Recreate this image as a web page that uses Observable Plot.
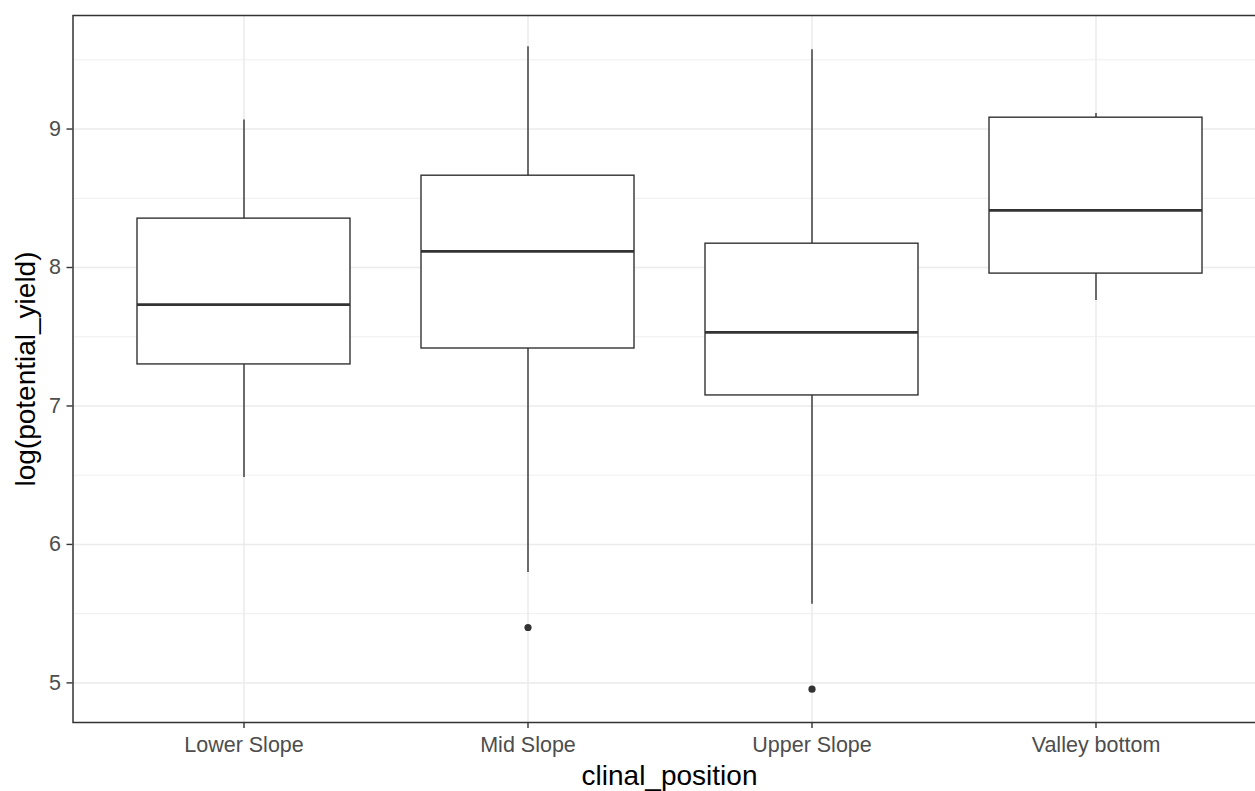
<!DOCTYPE html>
<html>
<head>
<meta charset="utf-8">
<script src="https://cdn.jsdelivr.net/npm/d3@7"></script>
<script src="https://cdn.jsdelivr.net/npm/@observablehq/plot@0.6"></script>
<style>
  html, body { margin: 0; padding: 0; background: #fff; overflow: hidden; }
  #chart { width: 1255px; height: 791px; overflow: hidden; }
  #chart svg { max-width: none !important; }
</style>
</head>
<body>
<div id="chart"></div>
<script>
const categories = ["Lower Slope", "Mid Slope", "Upper Slope", "Valley bottom"];
const whiskerLow  = [6.484, 5.797, 5.568, 7.761];
const q1          = [7.300, 7.415, 7.076, 7.956];
const median      = [7.732, 8.117, 7.531, 8.413];
const q3          = [8.353, 8.663, 8.172, 9.082];
const whiskerHigh = [9.065, 9.594, 9.572, 9.113];
const outlierCats = ["Mid Slope", "Upper Slope"];
const outlierVals = [5.40, 4.955];
const yTicks = [5, 6, 7, 8, 9];
const yMinor = [5.5, 6.5, 7.5, 8.5, 9.5];

const boxes = categories.map((c, i) => ({
  cat: c, lo: whiskerLow[i], q1: q1[i], med: median[i], q3: q3[i], hi: whiskerHigh[i]
}));
const outliers = outlierCats.map((c, i) => ({cat: c, v: outlierVals[i]}));

const font = "'Liberation Sans', Arial, Helvetica, sans-serif";
const dark = "#333333";
const grid = "#EBEBEB";

const chart = Plot.plot({
  width: 1272,
  height: 791,
  marginLeft: 72.5,
  marginRight: 6.5,
  marginTop: 15,
  marginBottom: 69,
  style: {fontFamily: font, background: "#fff", overflow: "visible", maxWidth: "none"},
  x: {domain: categories, paddingInner: 0.25, paddingOuter: 0.225, align: 0.5, label: null},
  y: {domain: [4.714, 9.82], label: null},
  marks: [
    Plot.ruleY(yMinor, {stroke: grid, strokeWidth: 0.8}),
    Plot.ruleY(yTicks, {stroke: grid, strokeWidth: 1.5}),
    Plot.ruleX(categories, {x: d => d, stroke: grid, strokeWidth: 1.5}),
    Plot.ruleX(boxes, {x: "cat", y1: "q3", y2: "hi", stroke: dark, strokeWidth: 1.4}),
    Plot.ruleX(boxes, {x: "cat", y1: "lo", y2: "q1", stroke: dark, strokeWidth: 1.4}),
    Plot.barY(boxes, {x: "cat", y1: "q1", y2: "q3", fill: "white", stroke: dark, strokeWidth: 1.4}),
    Plot.tickY(boxes, {x: "cat", y: "med", stroke: dark, strokeWidth: 2.8}),
    Plot.dot(outliers, {x: "cat", y: "v", r: 3.6, fill: dark, stroke: "none"}),
    Plot.axisY({ticks: yTicks, tickFormat: d => String(d), tickSize: 6, tickPadding: 6, fontSize: 21.5, color: "#4D4D4D", stroke: dark, strokeWidth: 1.4, label: null}),
    Plot.axisX({tickSize: 6, tickPadding: 8, fontSize: 21.5, color: "#4D4D4D", stroke: dark, strokeWidth: 1.4, label: null}),
    Plot.frame({stroke: dark, strokeWidth: 1.5}),
    Plot.text(["log(potential_yield)"], {frameAnchor: "left", textAnchor: "middle", dx: -47, rotate: -90, fontSize: 28, fill: "black"}),
    Plot.text(["clinal_position"], {frameAnchor: "bottom", textAnchor: "middle", lineAnchor: "bottom", dy: 62, fontSize: 28, fill: "black"})
  ]
});
document.getElementById("chart").appendChild(chart);
</script>
</body>
</html>
